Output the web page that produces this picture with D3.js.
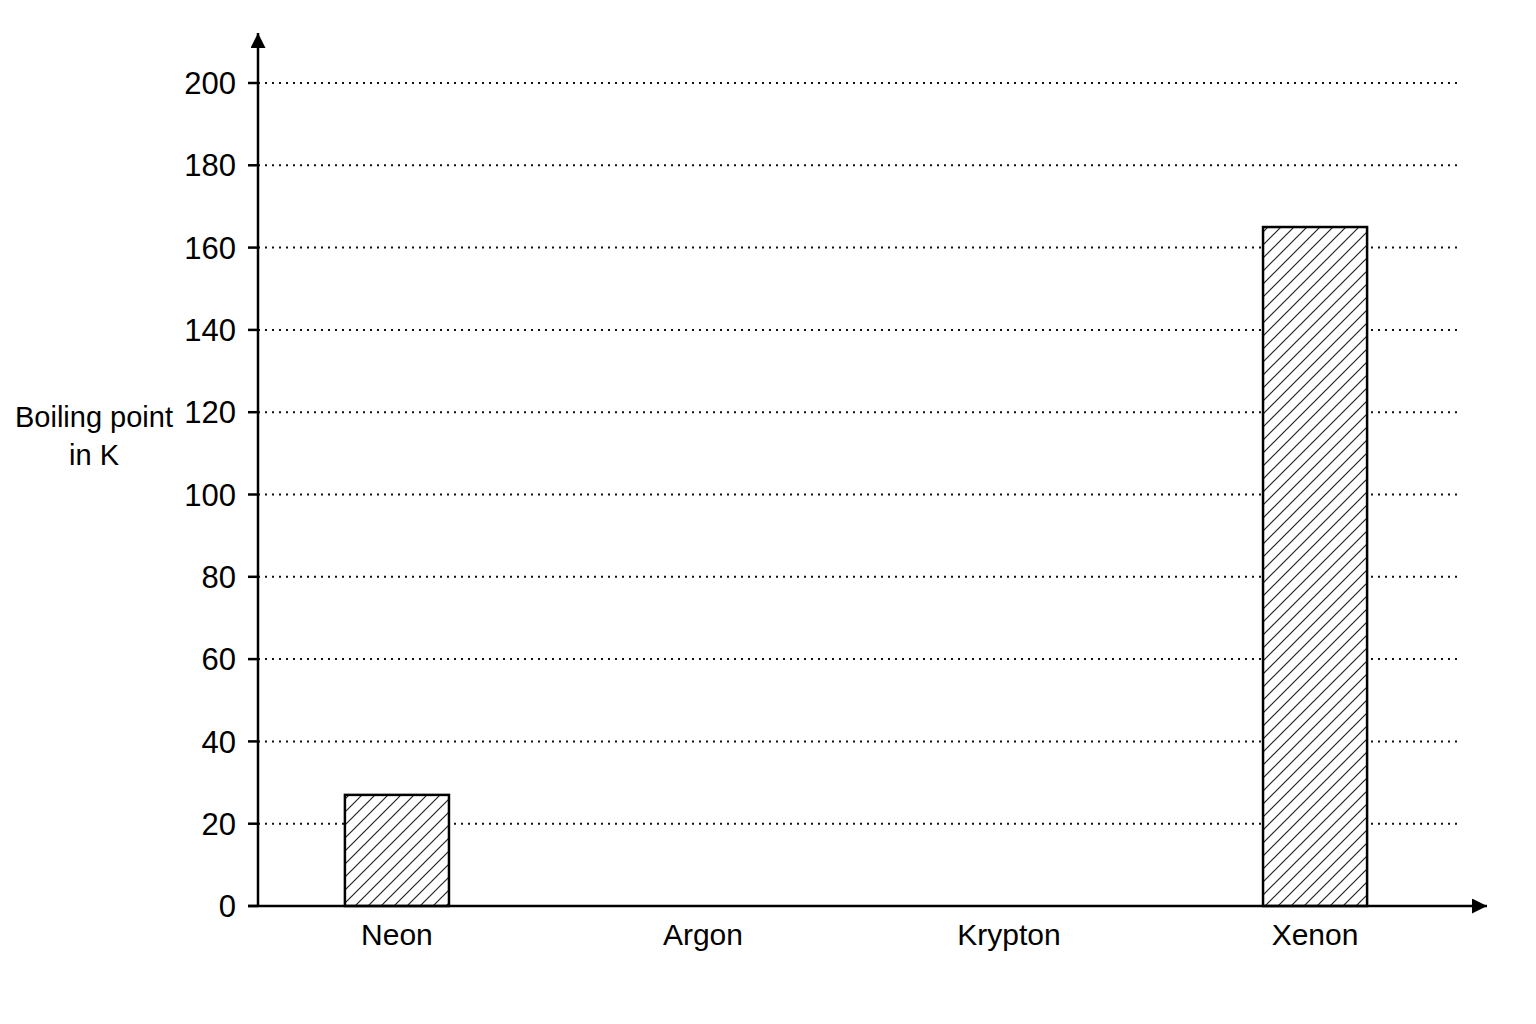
<!DOCTYPE html>
<html>
<head>
<meta charset="utf-8">
<script src="https://cdn.jsdelivr.net/npm/d3@7"></script>
<style>
  body { margin: 0; background: #fff; }
  svg { display: block; font-family: "Liberation Sans", Arial, sans-serif; }
</style>
</head>
<body>
<div id="chart"></div>
<script>
// data (Argon and Krypton have no bar drawn)
const categories = ["Neon", "Argon", "Krypton", "Xenon"];
const values = [27, null, null, 165];
const yTicks = [0, 20, 40, 60, 80, 100, 120, 140, 160, 180, 200];
const yLabelLines = ["Boiling point", "in K"];

const W = 1536, H = 1024;
const axisX = 258, axisY = 906, topY = 83;

const svg = d3.select("#chart").append("svg")
    .attr("width", W)
    .attr("height", H);

// diagonal hatching for the bars
const defs = svg.append("defs");
defs.append("pattern")
    .attr("id", "hatch")
    .attr("patternUnits", "userSpaceOnUse")
    .attr("width", 13)
    .attr("height", 13)
  .append("path")
    .attr("d", "M0,13 L13,0 M-3.25,3.25 L3.25,-3.25 M9.75,16.25 L16.25,9.75")
    .attr("stroke", "#222")
    .attr("stroke-width", 1.2);

defs.append("marker")
    .attr("id", "arrow")
    .attr("viewBox", "0 0 10 10")
    .attr("refX", 10)
    .attr("refY", 5)
    .attr("markerWidth", 17)
    .attr("markerHeight", 15)
    .attr("markerUnits", "userSpaceOnUse")
    .attr("orient", "auto")
  .append("path")
    .attr("d", "M0,0 L10,5 L0,10 Z")
    .attr("fill", "#000");

const y = d3.scaleLinear()
    .domain([0, 200])
    .range([axisY, topY]);

const x = d3.scaleBand()
    .domain(categories)
    .range([axisX, 1454])
    .paddingInner(0.66)
    .paddingOuter(0.284);

// dotted gridlines
svg.append("g")
    .selectAll("line")
    .data(yTicks.filter(d => d > 0))
    .enter().append("line")
      .attr("x1", axisX)
      .attr("x2", 1458)
      .attr("y1", d => y(d))
      .attr("y2", d => y(d))
      .attr("stroke", "#111")
      .attr("stroke-width", 2)
      .attr("stroke-dasharray", "2,5");

// bars
const bars = categories.map((c, i) => ({ name: c, value: values[i] }))
    .filter(d => d.value !== null);

svg.append("g")
    .selectAll("rect")
    .data(bars)
    .enter().append("rect")
      .attr("x", d => x(d.name))
      .attr("y", d => y(d.value))
      .attr("width", x.bandwidth())
      .attr("height", d => axisY - y(d.value))
      .attr("fill", "#fff")
      .attr("stroke", "none");

svg.append("g")
    .selectAll("rect")
    .data(bars)
    .enter().append("rect")
      .attr("x", d => x(d.name))
      .attr("y", d => y(d.value))
      .attr("width", x.bandwidth())
      .attr("height", d => axisY - y(d.value))
      .attr("fill", "url(#hatch)")
      .attr("stroke", "#000")
      .attr("stroke-width", 2.5);

// y axis: ticks and labels
const yAxis = svg.append("g");
yAxis.selectAll("line")
    .data(yTicks)
    .enter().append("line")
      .attr("x1", axisX - 10)
      .attr("x2", axisX)
      .attr("y1", d => y(d))
      .attr("y2", d => y(d))
      .attr("stroke", "#000")
      .attr("stroke-width", 2.5);

yAxis.selectAll("text")
    .data(yTicks)
    .enter().append("text")
      .attr("x", axisX - 22)
      .attr("y", d => y(d))
      .attr("dy", "0.36em")
      .attr("text-anchor", "end")
      .attr("font-size", 31)
      .attr("fill", "#000")
      .text(d => d);

// axis lines with arrows
svg.append("line")
    .attr("x1", axisX)
    .attr("y1", axisY + 1)
    .attr("x2", axisX)
    .attr("y2", 33)
    .attr("stroke", "#000")
    .attr("stroke-width", 2.5)
    .attr("marker-end", "url(#arrow)");

svg.append("line")
    .attr("x1", axisX - 10)
    .attr("y1", axisY)
    .attr("x2", 1487)
    .attr("y2", axisY)
    .attr("stroke", "#000")
    .attr("stroke-width", 2.5)
    .attr("marker-end", "url(#arrow)");

// category labels
svg.append("g")
    .selectAll("text")
    .data(categories)
    .enter().append("text")
      .attr("x", d => x(d) + x.bandwidth() / 2)
      .attr("y", 945)
      .attr("text-anchor", "middle")
      .attr("font-size", 30)
      .attr("fill", "#000")
      .text(d => d);

// y axis title
svg.append("text")
    .attr("x", 94)
    .attr("y", 427)
    .attr("text-anchor", "middle")
    .attr("font-size", 29)
    .attr("fill", "#000")
    .selectAll("tspan")
    .data(yLabelLines)
    .enter().append("tspan")
      .attr("x", 94)
      .attr("dy", (d, i) => i === 0 ? 0 : 38)
      .text(d => d);
</script>
</body>
</html>
